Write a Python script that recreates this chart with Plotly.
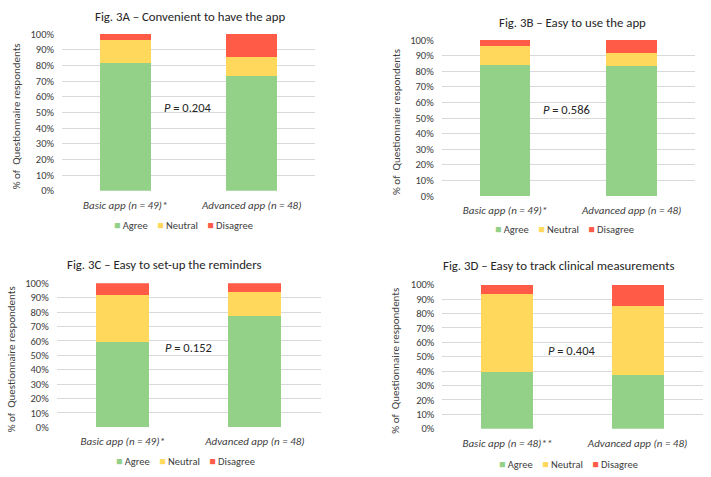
import plotly.graph_objects as go

# Percent of respondents per response (basic, advanced)
CATEGORIES = {
    "A": ["Basic app (n = 49)*", "Advanced app (n = 48)"],
    "B": ["Basic app (n = 49)*", "Advanced app (n = 48)"],
    "C": ["Basic app (n = 49)*", "Advanced app (n = 48)"],
    "D": ["Basic app (n = 48)**", "Advanced app (n = 48)"],
}
AGREE = {"A": [81.6, 72.9], "B": [83.7, 83.3], "C": [59.2, 77.1], "D": [39.6, 37.5]}
NEUTRAL = {"A": [14.3, 12.5], "B": [12.2, 8.4], "C": [32.6, 16.65], "D": [54.15, 47.9]}
DISAGREE = {"A": [4.1, 14.6], "B": [4.1, 8.3], "C": [8.2, 6.25], "D": [6.25, 14.6]}
RESPONSES = ["Agree", "Neutral", "Disagree"]
TITLES = {
    "A": "Fig. 3A \u2013 Convenient to have the app",
    "B": "Fig. 3B \u2013 Easy to use the app",
    "C": "Fig. 3C \u2013 Easy to set-up the reminders",
    "D": "Fig. 3D \u2013 Easy to track clinical measurements",
}
P_VALUES = {"A": "0.204", "B": "0.586", "C": "0.152", "D": "0.404"}
Y_TICKS = list(range(0, 101, 10))
Y_TICK_TEXT = [f"{v}%" for v in Y_TICKS]

GREEN = "#93D088"
YELLOW = "#FFD85C"
RED = "#FF5B47"
COLORS = [GREEN, YELLOW, RED]
TEXT = "#404040"
GRID = "#D9D9D9"
FONT = "Carlito, Lato, Open Sans, sans-serif"

W, H = 711, 477

# pixel boxes of each panel: x0, x1, ytop, ybottom
BOX = {
    "A": (62, 315, 34, 190.7),
    "B": (441.7, 695, 40, 196),
    "C": (56.7, 321, 283.3, 427.3),
    "D": (442.3, 702.7, 284.7, 428.7),
}
TITLE_POS = {"A": (190, 16), "B": (572, 22), "C": (164, 264), "D": (558, 265)}
P_POS = {"A": (188, 107), "B": (566, 109), "C": (188, 347), "D": (572, 350)}
YTITLE_X = {"A": 16, "B": 396, "C": 11, "D": 396}
LEGEND_POS = {"A": (183, 225), "B": (564, 230), "C": (185, 461), "D": (568, 464)}


def px(x):
    return x / W


def py(y):
    return 1 - y / H


fig = go.Figure()
annotations = []
layout = {}

# legend row drawn as one text line (colored squares + labels), like the Excel original
GAP = "\u00A0" * 4
legend_text = GAP.join(
    f"<span style='color:{c}'>\u25A0</span>\u00A0{r}" for r, c in zip(RESPONSES, COLORS)
)

for i, key in enumerate("ABCD"):
    n = "" if i == 0 else str(i + 1)
    x0, x1, yt, yb = BOX[key]
    for name, vals, color in zip(RESPONSES, [AGREE, NEUTRAL, DISAGREE], COLORS):
        fig.add_trace(
            go.Bar(
                x=CATEGORIES[key], y=vals[key], name=name, marker=dict(color=color, line_width=0),
                xaxis=f"x{n}", yaxis=f"y{n}", showlegend=False,
            )
        )
    layout[f"xaxis{n}"] = dict(
        domain=[px(x0), px(x1)], anchor=f"y{n}", showgrid=False, zeroline=False, automargin=False,
        tickfont=dict(size=11, color=TEXT, family=FONT, style="italic"), ticks="", fixedrange=True,
        ticklabelstandoff=6,
    )
    layout[f"yaxis{n}"] = dict(
        domain=[py(yb), py(yt)], anchor=f"x{n}", range=[0, 100], tickvals=Y_TICKS, ticktext=Y_TICK_TEXT,
        showgrid=True, gridcolor=GRID, gridwidth=1, zeroline=False, automargin=False,
        tickfont=dict(size=10.5, color=TEXT, family=FONT), ticks="", ticklabelstandoff=7,
    )
    lx, ly = LEGEND_POS[key]
    annotations.append(dict(
        text=legend_text, x=px(lx), y=py(ly), xref="paper", yref="paper", showarrow=False,
        xanchor="center", yanchor="middle", font=dict(size=10.5, color=TEXT, family=FONT),
    ))
    tx, ty = TITLE_POS[key]
    annotations.append(dict(
        text=TITLES[key], x=px(tx), y=py(ty), xref="paper", yref="paper", showarrow=False,
        xanchor="center", yanchor="middle", font=dict(size=12.8, color="#262626", family=FONT),
    ))
    ppx, ppy = P_POS[key]
    annotations.append(dict(
        text=f"<i>P</i> = {P_VALUES[key]}", x=px(ppx), y=py(ppy), xref="paper", yref="paper",
        showarrow=False, xanchor="center", yanchor="middle", font=dict(size=12.5, color="#262626", family=FONT),
    ))
    annotations.append(dict(
        text="% of  Questionnaire respondents", x=px(YTITLE_X[key]), y=py((yt + yb) / 2 + 4),
        xref="paper", yref="paper", showarrow=False, textangle=-90, xanchor="center", yanchor="middle",
        font=dict(size=11, color=TEXT, family=FONT),
    ))

fig.update_layout(
    **layout,
    barmode="stack",
    bargap=0.6,
    width=W,
    height=H,
    margin=dict(l=0, r=0, t=0, b=0, autoexpand=False),
    paper_bgcolor="white",
    plot_bgcolor="white",
    annotations=annotations,
    font=dict(family=FONT, color=TEXT),
)

# drop the browser's default 8px body margin so the figure fills the window exactly
fig.write_html(
    "out.html",
    config={"displayModeBar": False},
    post_script="document.body.style.margin = '0px';",
)
